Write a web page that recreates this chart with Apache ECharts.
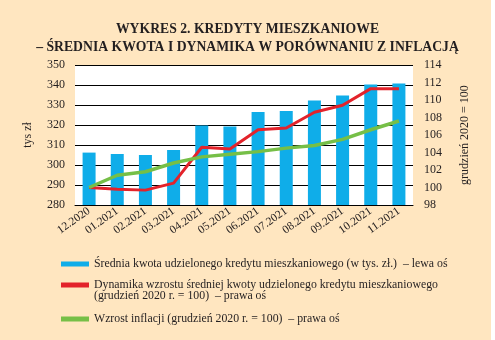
<!DOCTYPE html>
<html>
<head>
<meta charset="utf-8">
<script src="https://cdn.jsdelivr.net/npm/echarts@6/dist/echarts.min.js"></script>
<style>
html,body{margin:0;padding:0;background:#fff;}
#c{width:495px;height:340px;}
</style>
</head>
<body>
<div id="c"></div>
<script>
var categories = ['12.2020','01.2021','02.2021','03.2021','04.2021','05.2021','06.2021','07.2021','08.2021','09.2021','10.2021','11.2021'];
var avgLoan = [306.2, 305.5, 305.0, 307.5, 319.8, 319.3, 326.5, 327.0, 332.3, 334.8, 340.3, 340.8];
var loanDynamics = [100.0, 99.8, 99.7, 100.5, 104.6, 104.4, 106.6, 106.8, 108.6, 109.4, 111.3, 111.3];
var inflation = [100.0, 101.4, 101.8, 102.8, 103.5, 103.8, 104.1, 104.5, 104.8, 105.5, 106.6, 107.6];
var titleLines = ['WYKRES 2. KREDYTY MIESZKANIOWE', '– ŚREDNIA KWOTA I DYNAMIKA W PORÓWNANIU Z INFLACJĄ'];
var seriesNames = [
  'Średnia kwota udzielonego kredytu mieszkaniowego (w tys. zł.)  – lewa oś',
  'Dynamika wzrostu średniej kwoty udzielonego kredytu mieszkaniowego',
  'Wzrost inflacji (grudzień 2020 r. = 100)  – prawa oś'
];
var redSecondLine = '(grudzień 2020 r. = 100)  – prawa oś';
var leftAxisName = 'tys zł';
var rightAxisName = 'grudzień 2020 = 100';

var FONT = '"Liberation Serif", "DejaVu Serif", serif';
var TXT = '#231f20';
var BLUE = '#0fade9';
var RED = '#e3232b';
var GREEN = '#76bf47';

var chart = echarts.init(document.getElementById('c'), null, {renderer: 'canvas'});

function legendComp(name, color, top) {
  return {
    left: 61, top: top, orient: 'vertical',
    itemWidth: 28, itemHeight: 5, itemGap: 0, padding: 0,
    selectedMode: false,
    data: [{name: name, icon: 'rect', itemStyle: {color: color}}],
    textStyle: {fontFamily: FONT, fontSize: 11.8, color: TXT}
  };
}

chart.setOption({
  backgroundColor: '#ffe6c0',
  animation: false,
  title: [
    {text: titleLines[0], left: 'center', top: 17, textStyle: {fontFamily: FONT, fontWeight: 'bold', fontSize: 13.7, color: TXT}},
    {text: titleLines[1], left: 'center', top: 35, textStyle: {fontFamily: FONT, fontWeight: 'bold', fontSize: 13.7, color: TXT}}
  ],
  legend: [
    legendComp(seriesNames[0], BLUE, 258),
    legendComp(seriesNames[1], RED, 279),
    legendComp(seriesNames[2], GREEN, 313)
  ],
  graphic: [
    {type: 'text', left: 94, top: 290, style: {text: redSecondLine, font: '11.8px ' + FONT, fill: TXT}},
    {type: 'rect', right: 0, top: 0, shape: {width: 4, height: 340}, style: {fill: '#ffffff'}}
  ],
  grid: {left: 75, right: 82, top: 65, bottom: 135, show: true, backgroundColor: '#ffffff', borderWidth: 0, containLabel: false},
  xAxis: {
    type: 'category', data: categories,
    axisLine: {show: true, lineStyle: {color: '#000', width: 1}},
    axisTick: {show: false},
    axisLabel: {rotate: 35, margin: 5, fontFamily: FONT, fontSize: 11.5, color: TXT, interval: 0}
  },
  yAxis: [
    {
      type: 'value', min: 280, max: 350, interval: 10,
      name: leftAxisName, nameLocation: 'middle', nameGap: 41, nameRotate: 90,
      nameTextStyle: {fontFamily: FONT, fontSize: 12, color: TXT},
      axisLine: {show: false}, axisTick: {show: false},
      axisLabel: {fontFamily: FONT, fontSize: 12, color: TXT, margin: 10},
      splitLine: {show: true, lineStyle: {color: '#000', width: 1}}
    },
    {
      type: 'value', min: 98, max: 114, interval: 2, position: 'right',
      name: rightAxisName, nameLocation: 'middle', nameGap: 46, nameRotate: 90,
      nameTextStyle: {fontFamily: FONT, fontSize: 12, color: TXT},
      axisLine: {show: false}, axisTick: {show: false},
      axisLabel: {fontFamily: FONT, fontSize: 12, color: TXT, margin: 11},
      splitLine: {show: false}
    }
  ],
  series: [
    {name: seriesNames[0], type: 'bar', yAxisIndex: 0, data: avgLoan, barWidth: 13, itemStyle: {color: BLUE}},
    {name: seriesNames[1], type: 'line', yAxisIndex: 1, data: loanDynamics, showSymbol: false, symbol: 'none',
      lineStyle: {color: RED, width: 3}, itemStyle: {color: RED}},
    {name: seriesNames[2], type: 'line', yAxisIndex: 1, data: inflation, showSymbol: false, symbol: 'none',
      lineStyle: {color: GREEN, width: 3.5}, itemStyle: {color: GREEN}}
  ]
});
</script>
</body>
</html>
